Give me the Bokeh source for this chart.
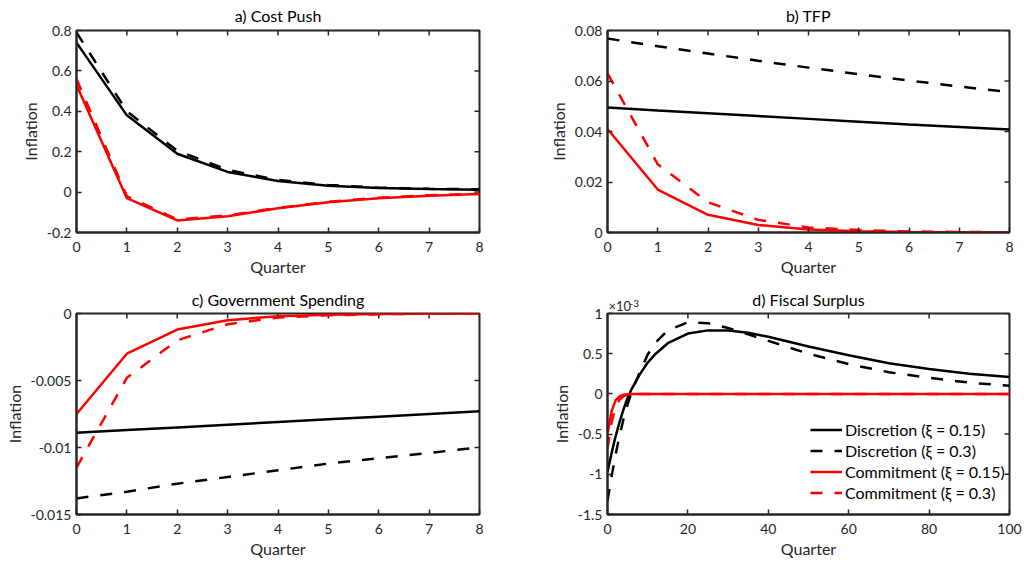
import math
from bokeh.plotting import figure
from bokeh.layouts import gridplot
from bokeh.models import Range1d, FixedTicker, Label, Legend, LegendItem
from bokeh.embed import file_html
from bokeh.resources import INLINE

FONT = "Lato"
TXT = "#262626"
RED = "#FF0000"
BLK = "#000000"

# ---------------- data ----------------
quarters = [0, 1, 2, 3, 4, 5, 6, 7, 8]

# a) Cost Push
a_disc_015 = [0.74, 0.38, 0.19, 0.10, 0.055, 0.032, 0.020, 0.015, 0.012]
a_disc_03 = [0.79, 0.40, 0.205, 0.11, 0.060, 0.035, 0.022, 0.016, 0.014]
a_comm_015 = [0.53, -0.03, -0.14, -0.12, -0.080, -0.050, -0.030, -0.018, -0.010]
a_comm_03 = [0.56, -0.02, -0.135, -0.115, -0.078, -0.048, -0.028, -0.016, -0.008]

# b) TFP
b_disc_015 = [0.0495, 0.0483, 0.0472, 0.0461, 0.0450, 0.0439, 0.0428, 0.0418, 0.0408]
b_disc_03 = [0.0768, 0.0738, 0.0709, 0.0680, 0.0653, 0.0627, 0.0602, 0.0578, 0.0556]
b_comm_015 = [0.041, 0.017, 0.007, 0.003, 0.0012, 0.0005, 0.0002, 0.0001, 0.00005]
b_comm_03 = [0.063, 0.027, 0.012, 0.005, 0.002, 0.001, 0.0004, 0.0002, 0.0001]

# c) Government Spending
c_disc_015 = [-0.0089, -0.0087, -0.0085, -0.0083, -0.0081, -0.0079, -0.0077, -0.0075, -0.0073]
c_disc_03 = [-0.0138, -0.0133, -0.0127, -0.0122, -0.0117, -0.0112, -0.0108, -0.0104, -0.0100]
c_comm_015 = [-0.0075, -0.0030, -0.0012, -0.0005, -0.0002, -0.0001, -0.00004, -0.00002, 0.0]
c_comm_03 = [-0.0115, -0.0048, -0.0020, -0.0008, -0.0003, -0.00013, -0.00005, -0.00002, 0.0]

# d) Fiscal Surplus (values in units of 1e-3)
d_quarters = [0, 1, 2, 3, 4, 5, 6, 8, 10, 12, 15, 20, 25, 30, 35, 40, 50, 60, 70, 80, 90, 100]
d_disc_015 = [-0.97, -0.74, -0.53, -0.35, -0.19, -0.05, 0.06, 0.24, 0.39, 0.50, 0.63, 0.75,
              0.79, 0.79, 0.76, 0.71, 0.59, 0.48, 0.38, 0.31, 0.25, 0.21]
d_disc_03 = [-1.33, -1.03, -0.76, -0.52, -0.31, -0.13, 0.02, 0.27, 0.49, 0.64, 0.79, 0.89,
             0.88, 0.82, 0.74, 0.66, 0.50, 0.37, 0.27, 0.20, 0.14, 0.10]
d_comm_015 = [-0.50, -0.22, -0.08, -0.03, -0.01, -0.004, 0.0, 0.0, 0.0, 0.0, 0.0, 0.0,
              0.0, 0.0, 0.0, 0.0, 0.0, 0.0, 0.0, 0.0, 0.0, 0.0]
d_comm_03 = [-0.68, -0.36, -0.16, -0.07, -0.03, -0.01, 0.0, 0.0, 0.0, 0.0, 0.0, 0.0,
             0.0, 0.0, 0.0, 0.0, 0.0, 0.0, 0.0, 0.0, 0.0, 0.0]

series_names = ["Discretion (\u03be = 0.15)", "Discretion (\u03be = 0.3)",
                "Commitment (\u03be = 0.15)", "Commitment (\u03be = 0.3)"]

titles = ["a) Cost Push", "b) TFP", "c) Government Spending", "d) Fiscal Surplus"]

q_ticks = [0, 1, 2, 3, 4, 5, 6, 7, 8]
q_labels = ["0", "1", "2", "3", "4", "5", "6", "7", "8"]
d_x_ticks = [0, 20, 40, 60, 80, 100]
d_x_labels = ["0", "20", "40", "60", "80", "100"]

a_y_ticks = [-0.2, 0, 0.2, 0.4, 0.6, 0.8]
a_y_labels = ["-0.2", "0", "0.2", "0.4", "0.6", "0.8"]
b_y_ticks = [0, 0.02, 0.04, 0.06, 0.08]
b_y_labels = ["0", "0.02", "0.04", "0.06", "0.08"]
c_y_ticks = [-0.015, -0.01, -0.005, 0]
c_y_labels = ["-0.015", "-0.01", "-0.005", "0"]
d_y_ticks = [-1.5, -1, -0.5, 0, 0.5, 1]
d_y_labels = ["-1.5", "-1", "-0.5", "0", "0.5", "1"]

DASH = "12 12"
STYLES = [(BLK, "solid"), (BLK, DASH), (RED, "solid"), (RED, DASH)]
LW = 2.5
TICK_LEN = 5


def style_axis(ax, ticks, labels):
    ax.ticker = FixedTicker(ticks=ticks)
    ax.major_label_overrides = {t: l for t, l in zip(ticks, labels)}
    ax.axis_line_color = TXT
    ax.axis_line_width = 2
    ax.major_tick_line_color = TXT
    ax.major_tick_line_width = 1.5
    ax.major_tick_in = TICK_LEN
    ax.major_tick_out = 0
    ax.minor_tick_line_color = None
    ax.major_label_text_font = FONT
    ax.major_label_text_font_size = "14px"
    ax.major_label_text_color = TXT
    ax.axis_label_text_font = FONT
    ax.axis_label_text_font_size = "16px"
    ax.axis_label_text_font_style = "normal"
    ax.axis_label_text_color = TXT


def panel(title, xr, yr, xt, xl, yt, yl, w, h, left, right, top, bottom, title_standoff):
    p = figure(width=w, height=h, output_backend="svg", toolbar_location=None,
               x_range=Range1d(*xr), y_range=Range1d(*yr),
               min_border_left=left, min_border_right=right,
               min_border_top=top, min_border_bottom=bottom,
               x_axis_label="Quarter", y_axis_label="Inflation")
    p.title.text = title
    p.title.align = "center"
    p.title.vertical_align = "top"
    p.title.text_font = FONT
    p.title.text_font_size = "16px"
    p.title.text_font_style = "normal"
    p.title.text_color = "#000000"
    p.title.standoff = title_standoff
    p.xgrid.visible = False
    p.ygrid.visible = False
    p.outline_line_color = TXT
    p.outline_line_width = 2
    p.background_fill_color = "white"
    p.border_fill_color = "white"
    style_axis(p.xaxis[0], xt, xl)
    style_axis(p.yaxis[0], yt, yl)
    p.xaxis[0].major_label_standoff = 9
    p.xaxis[0].axis_label_standoff = 2
    p.yaxis[0].major_label_standoff = 5
    p.yaxis[0].axis_label_standoff = 4
    # inward ticks on the top and right edges of the box (MATLAB "box on")
    p.ray(x=xt, y=[yr[1]] * len(xt), length=TICK_LEN, length_units="screen",
          angle=-math.pi / 2, line_color=TXT, line_width=1.5)
    p.ray(x=[xr[1]] * len(yt), y=yt, length=TICK_LEN, length_units="screen",
          angle=math.pi, line_color=TXT, line_width=1.5)
    return p


def draw(p, x, ys):
    rs = []
    for y, (c, d) in zip(ys, STYLES):
        rs.append(p.line(x, y, line_color=c, line_width=LW, line_dash=d))
    return rs


pa = panel(titles[0], (0, 8), (-0.2, 0.8), q_ticks, q_labels, a_y_ticks, a_y_labels,
           515, 286, 76, 36, 30, 54, 8)
draw(pa, quarters, [a_disc_015, a_disc_03, a_comm_015, a_comm_03])

pb = panel(titles[1], (0, 8), (0, 0.08), q_ticks, q_labels, b_y_ticks, b_y_labels,
           507, 286, 92, 13, 30, 54, 8)
draw(pb, quarters, [b_disc_015, b_disc_03, b_comm_015, b_comm_03])

pc = panel(titles[2], (0, 8), (-0.015, 0), q_ticks, q_labels, c_y_ticks, c_y_labels,
           515, 275, 76, 36, 26, 47, 6)
draw(pc, quarters, [c_disc_015, c_disc_03, c_comm_015, c_comm_03])

pd = panel(titles[3], (0, 100), (-1.5, 1), d_x_ticks, d_x_labels, d_y_ticks, d_y_labels,
           507, 275, 92, 13, 26, 47, 6)
rs = draw(pd, d_quarters, [d_disc_015, d_disc_03, d_comm_015, d_comm_03])

legend = Legend(items=[LegendItem(label=n, renderers=[r]) for n, r in zip(series_names, rs)],
                location=(203, 11), padding=0, margin=0, spacing=0,
                glyph_width=32, glyph_height=21, label_height=21, label_standoff=3,
                label_text_font=FONT, label_text_font_size="16px", label_text_color="#000000",
                border_line_color=None, background_fill_alpha=0)
pd.add_layout(legend)

# exponent note above the top-left corner of panel d (placed in a side panel so it is not clipped)
pd.add_layout(Label(x=d_x_ticks[0], y=d_y_ticks[-1], text="\u00d710", text_font=FONT,
                    text_font_size="13px", text_color=TXT, text_baseline="bottom",
                    text_align="left", x_offset=1, y_offset=0), "left")
pd.add_layout(Label(x=d_x_ticks[0], y=d_y_ticks[-1], text="-3", text_font=FONT,
                    text_font_size="10px", text_color=TXT, text_baseline="bottom",
                    text_align="left", x_offset=22, y_offset=7), "left")

grid = gridplot([[pa, pb], [pc, pd]], toolbar_location=None)

open("out.html", "w").write(file_html(grid, INLINE))
